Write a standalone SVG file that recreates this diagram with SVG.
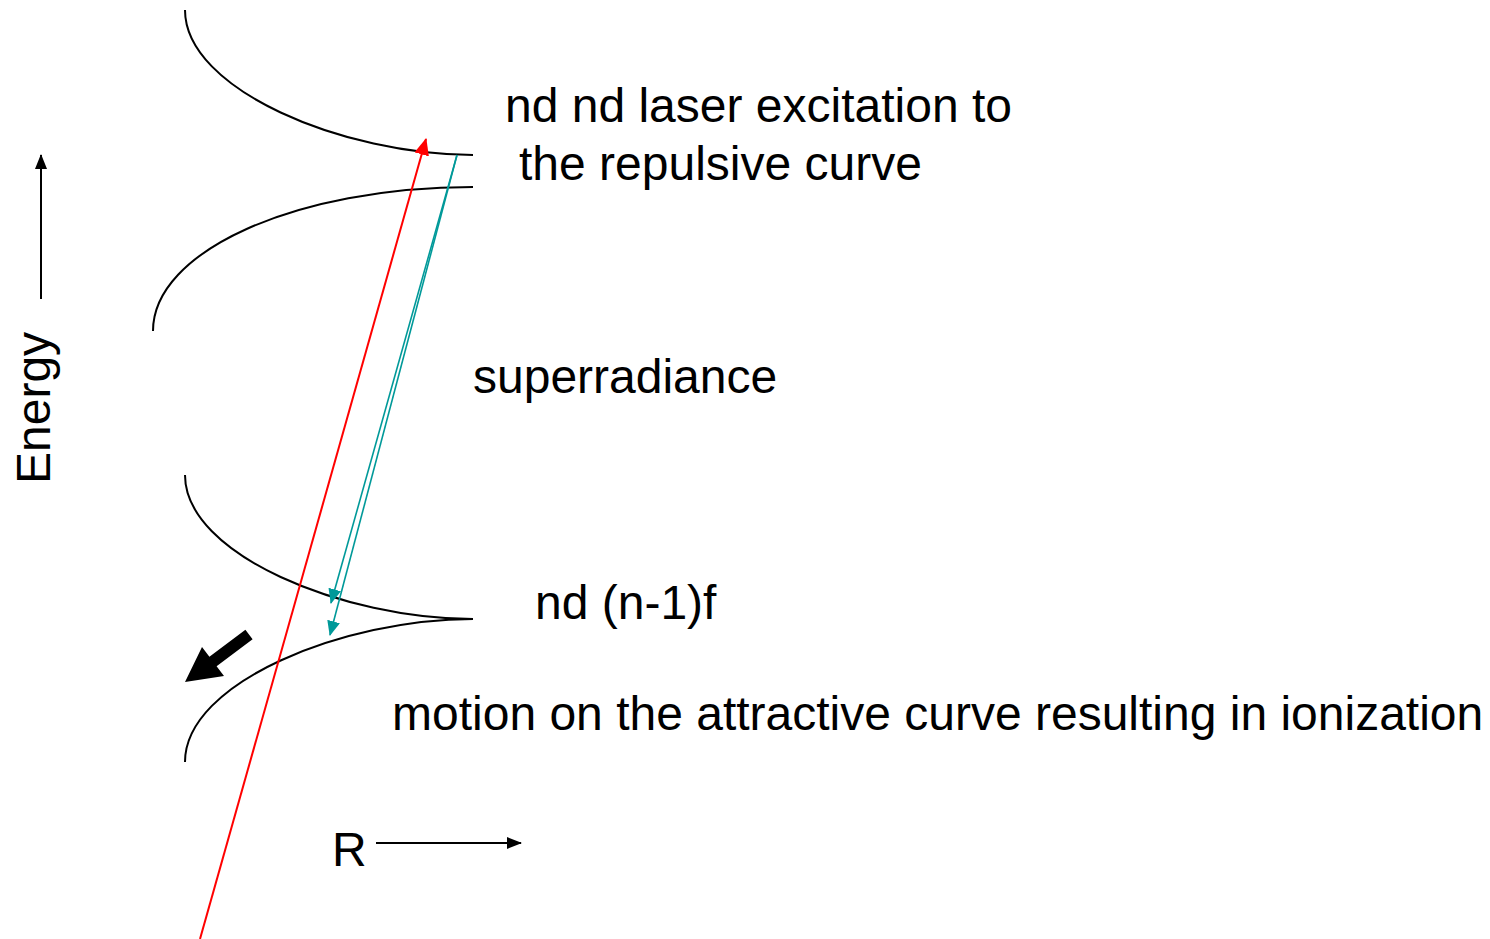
<svg xmlns="http://www.w3.org/2000/svg" width="1490" height="939" viewBox="0 0 1490 939">
<style>
.t{font-family:"Liberation Sans",Arial,sans-serif;font-size:48px;fill:#000}
.c{fill:none;stroke:#000;stroke-width:2}
</style>
<defs>
<marker id="ab" markerWidth="15" markerHeight="12" refX="14" refY="6" orient="auto" markerUnits="userSpaceOnUse"><path d="M0,0 L15,6 L0,12 Z" fill="#000"/></marker>
<marker id="ar" markerWidth="17" markerHeight="15" refX="16" refY="7.5" orient="auto" markerUnits="userSpaceOnUse"><path d="M0,0 L17,7.5 L0,15 Z" fill="#FF0000"/></marker>
<marker id="at" markerWidth="15" markerHeight="13" refX="14" refY="6.5" orient="auto" markerUnits="userSpaceOnUse"><path d="M0,0 L15,6.5 L0,13 Z" fill="#009999"/></marker>
</defs>
<g id="curves">
<path class="c" d="M185,10 C185,90 344,155 473,155"/>
<path class="c" d="M153,331 C153,251 296,187 473,187"/>
<path class="c" d="M185,475 C185,555 344,619 473,619"/>
<path class="c" d="M185,762 C185,682 344,619 473,619"/>
</g>
<g id="connectors">
<line x1="41" y1="299" x2="41" y2="155" stroke="#000" stroke-width="2" marker-end="url(#ab)"/>
<line x1="376" y1="843" x2="521" y2="843" stroke="#000" stroke-width="2" marker-end="url(#ab)"/>
<line x1="200" y1="939" x2="426" y2="139" stroke="#FF0000" stroke-width="2" marker-end="url(#ar)"/>
<line x1="457" y1="155" x2="331" y2="603" stroke="#009999" stroke-width="1.6" marker-end="url(#at)"/>
<line x1="457" y1="155" x2="330" y2="635" stroke="#009999" stroke-width="1.6" marker-end="url(#at)"/>
<polygon points="245.4,629.7 252.6,639.3 216.6,666.3 224,676 185,682 202,647 209.4,656.7" fill="#000"/>
</g>
<g id="labels">
<text class="t" x="505" y="122">nd nd laser excitation to</text>
<text class="t" x="519" y="180">the repulsive curve</text>
<text class="t" x="473" y="393">superradiance</text>
<text class="t" x="535" y="619">nd (n-1)f</text>
<text class="t" x="392" y="730">motion on the attractive curve resulting in ionization</text>
<text class="t" x="332" y="866">R</text>
<text class="t" transform="translate(50,484) rotate(-90)">Energy</text>
</g>
</svg>
